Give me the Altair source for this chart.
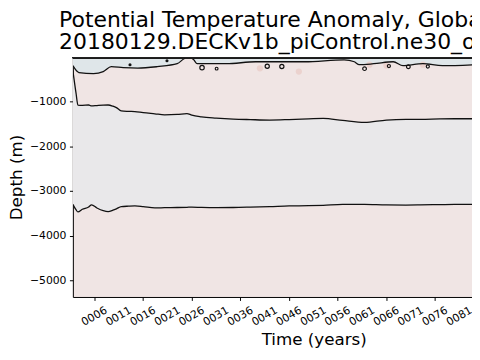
import altair as alt
import pandas as pd

# ---- data ----
band_years = [1.56, 2.2, 2.6, 3.5, 4.8, 5.4, 6.5, 7.8, 8.8, 9.8, 10.5, 11.5, 13, 14.3, 16,
              18.4, 20.4, 23, 25, 26, 28, 31, 34.5, 38, 42, 46, 50, 53, 57, 61.5, 66, 70,
              73, 77, 80, 84]
mid_depth = [-300, -800, -1075, -1080, -1073, -1095, -1085, -1075, -1073, -1100, -1132,
             -1205, -1215, -1220, -1245, -1271, -1293, -1285, -1264, -1300, -1337, -1365,
             -1388, -1400, -1410, -1400, -1385, -1374, -1420, -1463, -1410, -1396, -1396,
             -1385, -1381, -1381]
low_depth = [-3300, -3420, -3470, -3410, -3360, -3310, -3380, -3440, -3460, -3430, -3400,
             -3350, -3340, -3335, -3350, -3380, -3375, -3370, -3365, -3362, -3368, -3372,
             -3370, -3362, -3350, -3335, -3330, -3320, -3300, -3298, -3313, -3315, -3312,
             -3305, -3300, -3297]

top_years = [1.56, 2.8, 5.8, 7.8, 9.45, 11.9, 14.9, 18.9, 23.0, 24.4, 25.6, 26.4, 27.1,
             33.1, 39.1, 45.2, 49.2, 57.3, 59.4, 60.4, 63.4, 67.4, 69.4, 73.5, 77.5, 84]
top_depth = [-192, -346, -368, -324, -214, -236, -247, -214, -148, -37, -5, -60, -148,
             -148, -104, -104, -104, -60, -104, -170, -148, -104, -192, -148, -192, -170]

loop_years = [28.1, 31.1, 41.5, 44.5, 61.5, 66.5, 70.5, 74.5]
loop_depth = [-236, -258, -205, -210, -258, -200, -215, -210]
loop_size = [20, 8, 18, 18, 14, 10, 14, 10]

dot_years = [13.3, 20.9]
dot_depth = [-170, -81]

blob_years = [48.0, 62.5, 66.0, 73.5, 40.0]
blob_depth = [-324, -170, -190, -170, -250]

tick_years = [6, 11, 16, 21, 26, 31, 36, 41, 46, 51, 56, 61, 66, 71, 76, 81]
tick_labels = ["0006", "0011", "0016", "0021", "0026", "0031", "0036", "0041", "0046",
               "0051", "0056", "0061", "0066", "0071", "0076", "0081"]
depth_ticks = [-1000, -2000, -3000, -4000, -5000]

title_line1 = "Potential Temperature Anomaly, Global"
title_line2 = "20180129.DECKv1b_piControl.ne30_oECv3_ICG.edison"

# ---- layout ----
W, H = 406, 244
X0 = 1.56
X1 = X0 + W / 4.95
FONT = "DejaVu Sans"

band = pd.DataFrame({"year": band_years, "mid": mid_depth, "low": low_depth})
top = pd.DataFrame({"year": top_years, "depth": top_depth, "surf": [0] * len(top_years)})
loops = pd.DataFrame({"year": loop_years, "depth": loop_depth, "s": loop_size})
dots = pd.DataFrame({"year": dot_years, "depth": dot_depth})
blobs = pd.DataFrame({"year": blob_years, "depth": blob_depth})
ticks = pd.DataFrame({"year": tick_years, "label": tick_labels})

xscale = alt.Scale(domain=[X0, X1], nice=False, zero=False)
yscale = alt.Scale(domain=[-5375, 0], nice=False, zero=False)

xaxis = alt.Axis(values=tick_years, labels=False,
                 tickSize=3.5, tickColor="#000", domainColor="#000", grid=False,
                 title="Time (years)", titleFont=FONT, titleFontSize=17,
                 titleFontWeight="normal", titleColor="#000", titleAlign="center",
                 titleX=245, titleY=48, titleBaseline="alphabetic")
yaxis = alt.Axis(values=depth_ticks, format="d", labelFontSize=11, labelFont=FONT,
                 labelColor="#000", tickSize=3.5, tickColor="#000", domainColor="#000",
                 labelPadding=3.5, grid=False,
                 title="Depth (m)", titleFont=FONT, titleFontSize=17,
                 titleFontWeight="normal", titleColor="#000", titleAngle=-90,
                 titleX=-52, titleY=H / 2, titleBaseline="alphabetic")

X = lambda: alt.X("year:Q", scale=xscale)

gray_band = alt.Chart(band).mark_area(color="#e9e8ea", clip=True, interpolate="monotone").encode(
    x=alt.X("year:Q", scale=xscale, axis=xaxis),
    y=alt.Y("mid:Q", scale=yscale, axis=yaxis), y2="low:Q")
top_band = alt.Chart(top).mark_area(color="#dfe6e9", clip=True, interpolate="monotone").encode(
    x=X(), y=alt.Y("depth:Q", scale=yscale), y2="surf:Q")
blob_layer = alt.Chart(blobs).mark_point(shape="circle", filled=True, color="#eacfcb",
                                          size=40, opacity=0.9, clip=True).encode(
    x=X(), y=alt.Y("depth:Q", scale=yscale))
mid_line = alt.Chart(band).mark_line(color="#111", strokeWidth=1.3, clip=True, interpolate="monotone").encode(
    x=X(), y=alt.Y("mid:Q", scale=yscale))
low_line = alt.Chart(band).mark_line(color="#111", strokeWidth=1.3, clip=True, interpolate="monotone").encode(
    x=X(), y=alt.Y("low:Q", scale=yscale))
top_line = alt.Chart(top).mark_line(color="#111", strokeWidth=1.3, clip=True, interpolate="monotone").encode(
    x=X(), y=alt.Y("depth:Q", scale=yscale))
loop_layer = alt.Chart(loops).mark_point(shape="circle", filled=False, color="#111",
                                          strokeWidth=1.2, opacity=1, clip=True).encode(
    x=X(), y=alt.Y("depth:Q", scale=yscale),
    size=alt.Size("s:Q", scale=None, legend=None))
dot_layer = alt.Chart(dots).mark_point(shape="circle", filled=True, color="#111",
                                        size=10, opacity=1, clip=True).encode(
    x=X(), y=alt.Y("depth:Q", scale=yscale))
top_rule = alt.Chart(band).mark_rule(color="#222", strokeWidth=1).encode(
    x=alt.value(0), x2=alt.value(W), y=alt.value(0.5))
tick_text = alt.Chart(ticks).mark_text(font=FONT, fontSize=11, color="#000", angle=330,
                                        align="center", baseline="middle").encode(
    x=X(), y=alt.value(H + 20), text="label:N")

chart = alt.layer(gray_band, top_band, blob_layer, mid_line, low_line, top_line,
                  loop_layer, dot_layer, top_rule, tick_text).properties(
    width=W, height=H,
    autosize=alt.AutoSizeParams(type="none"),
    padding={"left": 66, "top": 47, "right": 0, "bottom": 53},
    title=alt.TitleParams(text=title_line1, subtitle=title_line2, anchor="start",
                          frame="group", dx=-14, align="left", font=FONT, fontSize=22.3,
                          fontWeight="normal", color="#000", subtitleFont=FONT,
                          subtitleFontSize=22.3, subtitleColor="#000",
                          subtitleFontWeight="normal", subtitlePadding=0, offset=4),
).configure_view(fill="#f0e5e4", stroke=None)

chart.save("out.html", embed_options={"renderer": "svg", "actions": False})
